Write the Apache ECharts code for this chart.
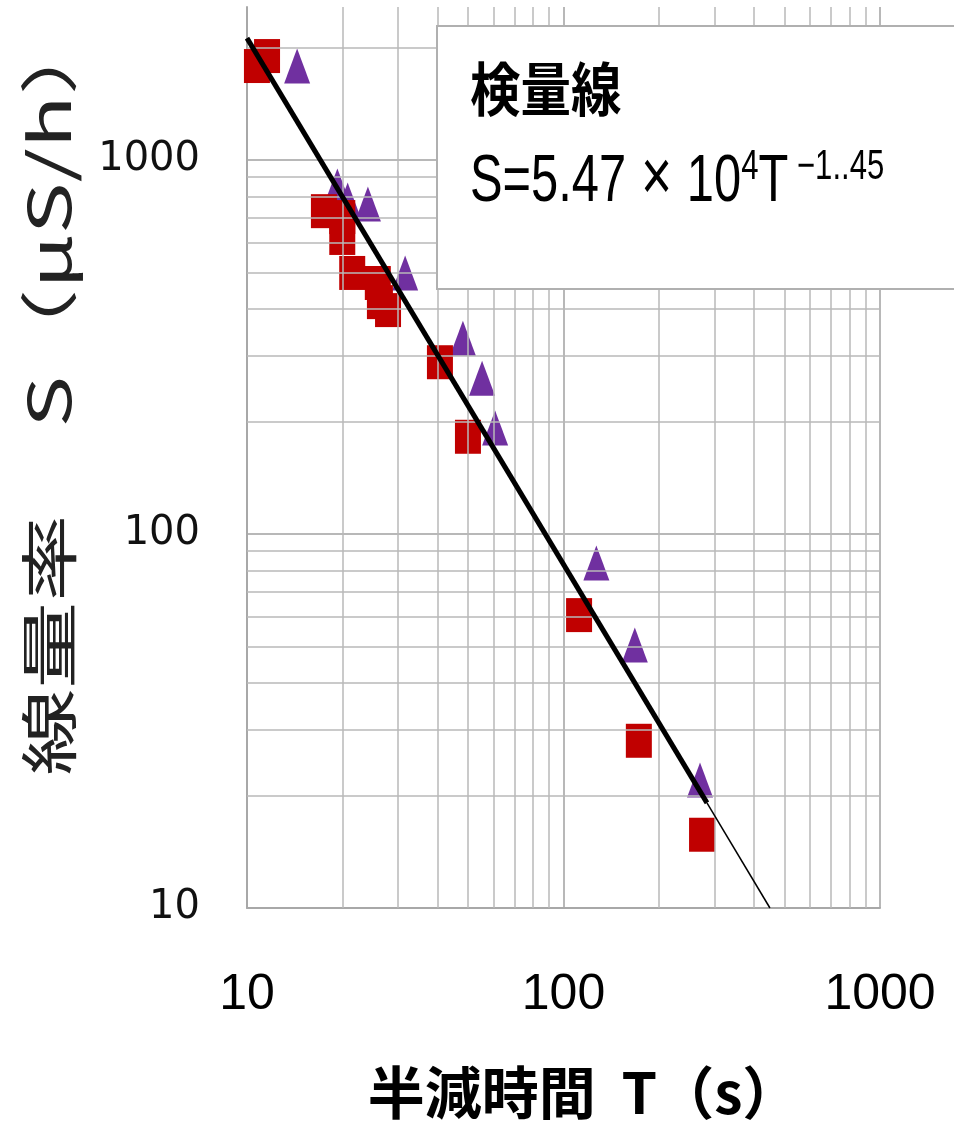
<!DOCTYPE html>
<html>
<head>
<meta charset="utf-8">
<script src="https://cdn.jsdelivr.net/npm/echarts@6/dist/echarts.min.js"></script>
<style>
  html, body { margin: 0; padding: 0; background: #fff; }
  #chart { width: 954px; height: 1132px; }
</style>
</head>
<body>
<div id="chart"></div>
<script>
// values: [半減時間 T (s), 線量率 S (μS/h)]
const redPoints = [
  [10.75, 1784], [11.57, 1897], [17.5, 730], [20.0, 704], [20.0, 619],
  [21.5, 499], [25.9, 469], [26.3, 417], [27.9, 397], [40.7, 288],
  [49.9, 182], [112, 60.7], [173, 28.0], [274, 15.7]
]
const purplePoints = [
  [14.4, 1784], [19.3, 852], [20.8, 782], [24.1, 763], [31.6, 499],
  [48.1, 334], [55.3, 261], [60.8, 192], [127, 83.7], [168, 50.5], [270, 22.0]
]
// 検量線 (drawn thick over the data, thin beyond it)
const fitThick = [[10, 2119], [284, 19.1]]
const fitThin = [[284, 19.1], [449, 10]]
// minor grid values
const xMinor = [20, 30, 40, 50, 60, 70, 80, 90, 200, 300, 400, 500, 600, 700, 800, 900]
const yMinor = [20, 30, 40, 50, 60, 70, 80, 90, 200, 300, 400, 500, 600, 700, 800, 900, 2000]

const gridColor = '#b8b8b8'
const latin = '"Liberation Sans", Arial, sans-serif'
const jp = '"Noto Sans CJK JP", sans-serif'

function decadeLabel(v) {
  const e = Math.log10(v)
  return Math.abs(e - Math.round(e)) < 1e-6 ? String(Math.round(v)) : ''
}

const chart = echarts.init(document.getElementById('chart'), null, { renderer: 'canvas' })

chart.setOption({
  animation: false,
  backgroundColor: '#fff',
  grid: { left: 247, right: 74, top: 7, bottom: 224 },
  xAxis: {
    type: 'log',
    logBase: 10,
    min: 10,
    max: 1000,
    name: '半減時間  T（s）',
    nameLocation: 'middle',
    nameGap: 156,
    nameTextStyle: {
      fontFamily: jp, fontSize: 57, fontWeight: 'bold', color: '#000',
      padding: [0, 0, 0, 40]
    },
    axisLine: { show: true, lineStyle: { color: '#a8a8a8', width: 2 } },
    axisTick: { show: false },
    axisLabel: {
      margin: 62,
      fontFamily: latin,
      fontSize: 50,
      color: '#000',
      formatter: decadeLabel
    },
    splitLine: { show: true, lineStyle: { color: gridColor, width: 2 } }
  },
  yAxis: {
    type: 'log',
    logBase: 10,
    min: 10,
    max: 2566,
    axisLine: { show: true, lineStyle: { color: '#a8a8a8', width: 2 } },
    axisTick: { show: false },
    axisLabel: {
      margin: 47,
      fontFamily: '"DejaVu Sans", sans-serif',
      fontSize: 40,
      color: '#111',
      showMaxLabel: false,
      formatter: decadeLabel
    },
    splitLine: { show: true, showMaxLine: false, lineStyle: { color: gridColor, width: 2 } }
  },
  series: [
    {
      type: 'scatter',
      data: [],
      z: 1,
      silent: true,
      markLine: {
        silent: true,
        symbol: 'none',
        label: { show: false },
        lineStyle: { color: gridColor, width: 1.5, type: 'solid' },
        data: xMinor.map(v => ({ xAxis: v })).concat(yMinor.map(v => ({ yAxis: v })))
      }
    },
    {
      name: 'purple',
      type: 'scatter',
      z: 3,
      symbol: 'triangle',
      symbolSize: [26, 35],
      itemStyle: { color: '#7030a0', opacity: 1 },
      data: purplePoints
    },
    {
      name: 'red',
      type: 'scatter',
      z: 4,
      symbol: 'rect',
      symbolSize: [26, 34],
      itemStyle: { color: '#c00000', opacity: 1 },
      data: redPoints
    },
    {
      type: 'line',
      z: 5,
      symbol: 'none',
      lineStyle: { color: '#000', width: 5 },
      data: fitThick
    },
    {
      type: 'line',
      z: 5,
      symbol: 'none',
      lineStyle: { color: '#000', width: 1.5 },
      data: fitThin
    }
  ],
  graphic: [
    {
      type: 'rect',
      z: 100,
      shape: { x: 437, y: 26, width: 540, height: 263 },
      style: { fill: '#fff', stroke: '#b0b0b0', lineWidth: 2 }
    },
    {
      type: 'text',
      z: 101,
      x: 470,
      y: 89,
      scaleX: 0.87,
      style: {
        text: '検量線',
        font: 'bold 58px ' + jp,
        fill: '#000',
        textVerticalAlign: 'middle',
        verticalAlign: 'middle'
      }
    },
    {
      type: 'text',
      z: 101,
      x: 470,
      y: 146,
      scaleX: 0.74,
      style: {
        text: '{m|S=5.47}{x|×}{m|10}{s|4}{m|T}{s| −1..45}',
        fill: '#000',
        textVerticalAlign: 'top',
        verticalAlign: 'top',
        rich: {
          m: { fontFamily: latin, fontSize: 66, lineHeight: 70, verticalAlign: 'bottom', fill: '#000' },
          x: { fontFamily: latin, fontSize: 72, lineHeight: 70, verticalAlign: 'bottom', padding: [0, 20, 0, 20], fill: '#000' },
          s: { fontFamily: latin, fontSize: 42, lineHeight: 42, verticalAlign: 'top', fill: '#000' }
        }
      }
    },
    {
      type: 'text',
      z: 101,
      x: 49,
      y: 392,
      rotation: Math.PI / 2,
      scaleX: 1.5,
      style: {
        text: '線量率　S（μS/h）',
        font: '58px ' + jp,
        fill: '#222',
        textAlign: 'center',
        align: 'center',
        textVerticalAlign: 'middle',
        verticalAlign: 'middle'
      }
    }
  ]
})
</script>
</body>
</html>
